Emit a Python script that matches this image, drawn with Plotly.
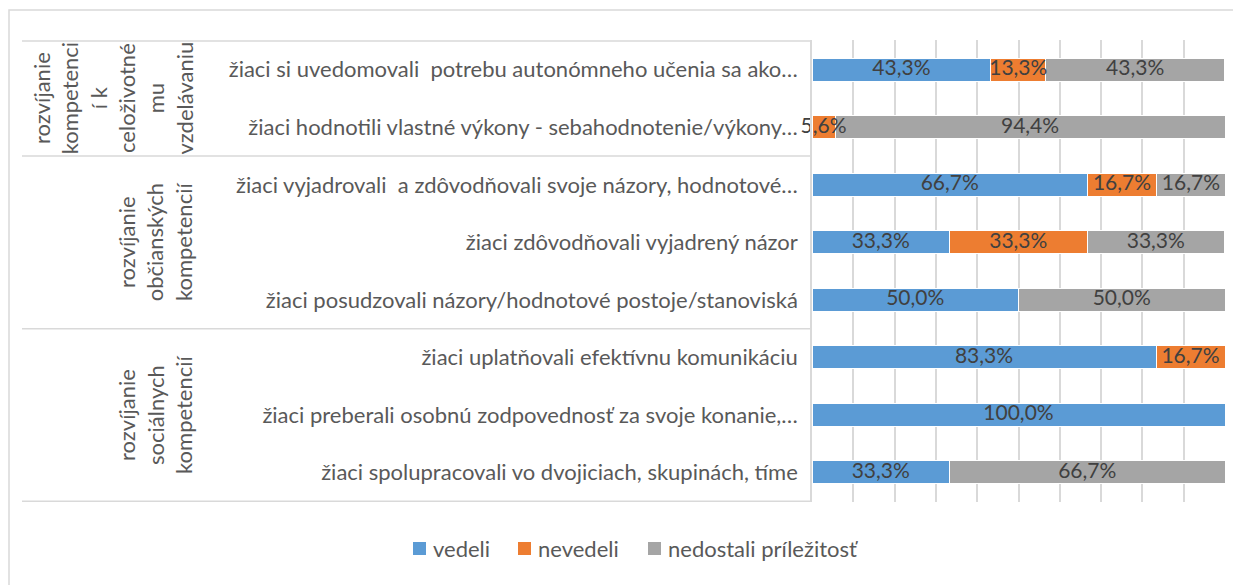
import plotly.graph_objects as go

# ---------------- data ----------------
categories = [
    "žiaci si uvedomovali  potrebu autonómneho učenia sa ako…",
    "žiaci hodnotili vlastné výkony - sebahodnotenie/výkony…",
    "žiaci vyjadrovali  a zdôvodňovali svoje názory, hodnotové…",
    "žiaci zdôvodňovali vyjadrený názor",
    "žiaci posudzovali názory/hodnotové postoje/stanoviská",
    "žiaci uplatňovali efektívnu komunikáciu",
    "žiaci preberali osobnú zodpovednosť za svoje konanie,…",
    "žiaci spolupracovali vo dvojiciach, skupinách, tíme",
]
group_labels = [
    "rozvíjanie<br>kompetenci<br>í k<br>celoživotné<br>mu<br>vzdelávaniu",
    "rozvíjanie<br>občianských<br>kompetencií",
    "rozvíjanie<br>sociálnych<br>kompetencií",
]
group_sizes = [2, 3, 3]

series_names = ["vedeli", "nevedeli", "nedostali príležitosť"]
vedeli = [43.3, 0, 66.7, 33.3, 50.0, 83.3, 100.0, 33.3]
nevedeli = [13.3, 5.6, 16.7, 33.3, 0, 16.7, 0, 0]
nedostali = [43.3, 94.4, 16.7, 33.3, 50.0, 0, 0, 66.7]
series_values = [vedeli, nevedeli, nedostali]
series_colors = ["#5B9BD5", "#ED7D31", "#A5A5A5"]

# ---------------- layout constants (screen pixels) ----------------
OFF = 8                      # page body margin
W, H = 1241, 585
PL, PR, PT, PB = 812, 1225, 40, 502   # plot area on screen
ML = PL - OFF
MR = W - (PR - OFF)
MT = PT - OFF
MB = H - (PB - OFF)
PW = W - ML - MR
PH = H - MT - MB
FONT = "Lato"
FS = 22
FS_LBL = 21
GRID = "#d9d9d9"
TXT = "#595959"


def px_x(p):
    return (p - OFF - ML) / PW


def px_y(p):
    return (H - MB - (p - OFF)) / PH


def fmt(v):
    return "" if v == 0 else f"{v:.1f}%".replace(".", ",")


fig = go.Figure()
for name, vals, col in zip(series_names, series_values, series_colors):
    fig.add_trace(go.Bar(
        y=categories, x=vals, name=name, orientation="h",
        marker=dict(color=col, line=dict(color="white", width=1)),
        hoverinfo="skip", showlegend=False,
    ))

# data labels on top of all bars
base = [0.0] * len(categories)
for name, vals in zip(series_names, series_values):
    mids = [b + v / 2 for b, v in zip(base, vals)]
    fig.add_trace(go.Scatter(
        x=mids, y=categories, mode="text", text=[fmt(v) for v in vals],
        textposition="middle center", cliponaxis=False, showlegend=False,
        hoverinfo="skip",
        textfont=dict(family=FONT, size=FS_LBL, color="#404040"),
    ))
    base = [b + v for b, v in zip(base, vals)]

shapes = []
# outer chart border (clipped by the page edges)
shapes.append(dict(type="rect", xref="paper", yref="paper",
                   x0=px_x(9), x1=px_x(W + 40), y0=px_y(10), y1=px_y(H + 40),
                   line=dict(color=GRID, width=1.5), fillcolor="rgba(0,0,0,0)",
                   layer="below"))
# category separator lines of multi-level axis
bounds = [-0.5]
acc = -0.5
for g in group_sizes:
    acc += g
    bounds.append(acc)
for b in bounds:
    shapes.append(dict(type="line", xref="paper", yref="y",
                       x0=px_x(22), x1=px_x(PL), y0=b, y1=b,
                       line=dict(color=GRID, width=1.5)))

annotations = []
start = 0
for lab, g in zip(group_labels, group_sizes):
    center = start + (g - 1) / 2
    annotations.append(dict(
        text=lab, textangle=-90, xref="paper", yref="y",
        x=px_x(199), y=center, xanchor="right", yanchor="middle",
        showarrow=False, align="center",
        font=dict(family=FONT, size=FS, color=TXT)))
    start += g

# custom legend
leg_sq_x = [413, 518, 648]
for name, col, sx in zip(series_names, series_colors, leg_sq_x):
    shapes.append(dict(type="rect", xref="paper", yref="paper",
                       x0=px_x(sx), x1=px_x(sx + 13), y0=px_y(542), y1=px_y(555),
                       line=dict(width=0), fillcolor=col))
    annotations.append(dict(text=name, xref="paper", yref="paper",
                            x=px_x(sx + 18), y=px_y(548), xanchor="left", yanchor="middle",
                            showarrow=False, font=dict(family=FONT, size=FS, color=TXT)))

# cut-off title fragment at top-left
annotations.append(dict(text="y", xref="paper", yref="paper", x=px_x(31), y=px_y(11),
                        xanchor="left", yanchor="bottom", showarrow=False,
                        font=dict(family=FONT, size=FS, color="#262626")))

fig.update_layout(
    width=W, height=H,
    margin=dict(l=ML, r=MR, t=MT, b=MB, autoexpand=False),
    paper_bgcolor="white", plot_bgcolor="white",
    barmode="stack", bargap=0.6,
    font=dict(family=FONT, size=FS, color=TXT),
    xaxis=dict(range=[0, 100], dtick=10, showgrid=True, gridcolor=GRID, gridwidth=1.5,
               showticklabels=False, zeroline=False, showline=False, fixedrange=True),
    yaxis=dict(categoryorder="array", categoryarray=categories, autorange="reversed",
               showline=True, linecolor=GRID, linewidth=1.5, showgrid=False,
               ticks="", ticklabelstandoff=8,
               tickfont=dict(family=FONT, size=FS, color=TXT)),
    shapes=shapes, annotations=annotations,
    showlegend=False,
)

fig.write_html("out.html")
